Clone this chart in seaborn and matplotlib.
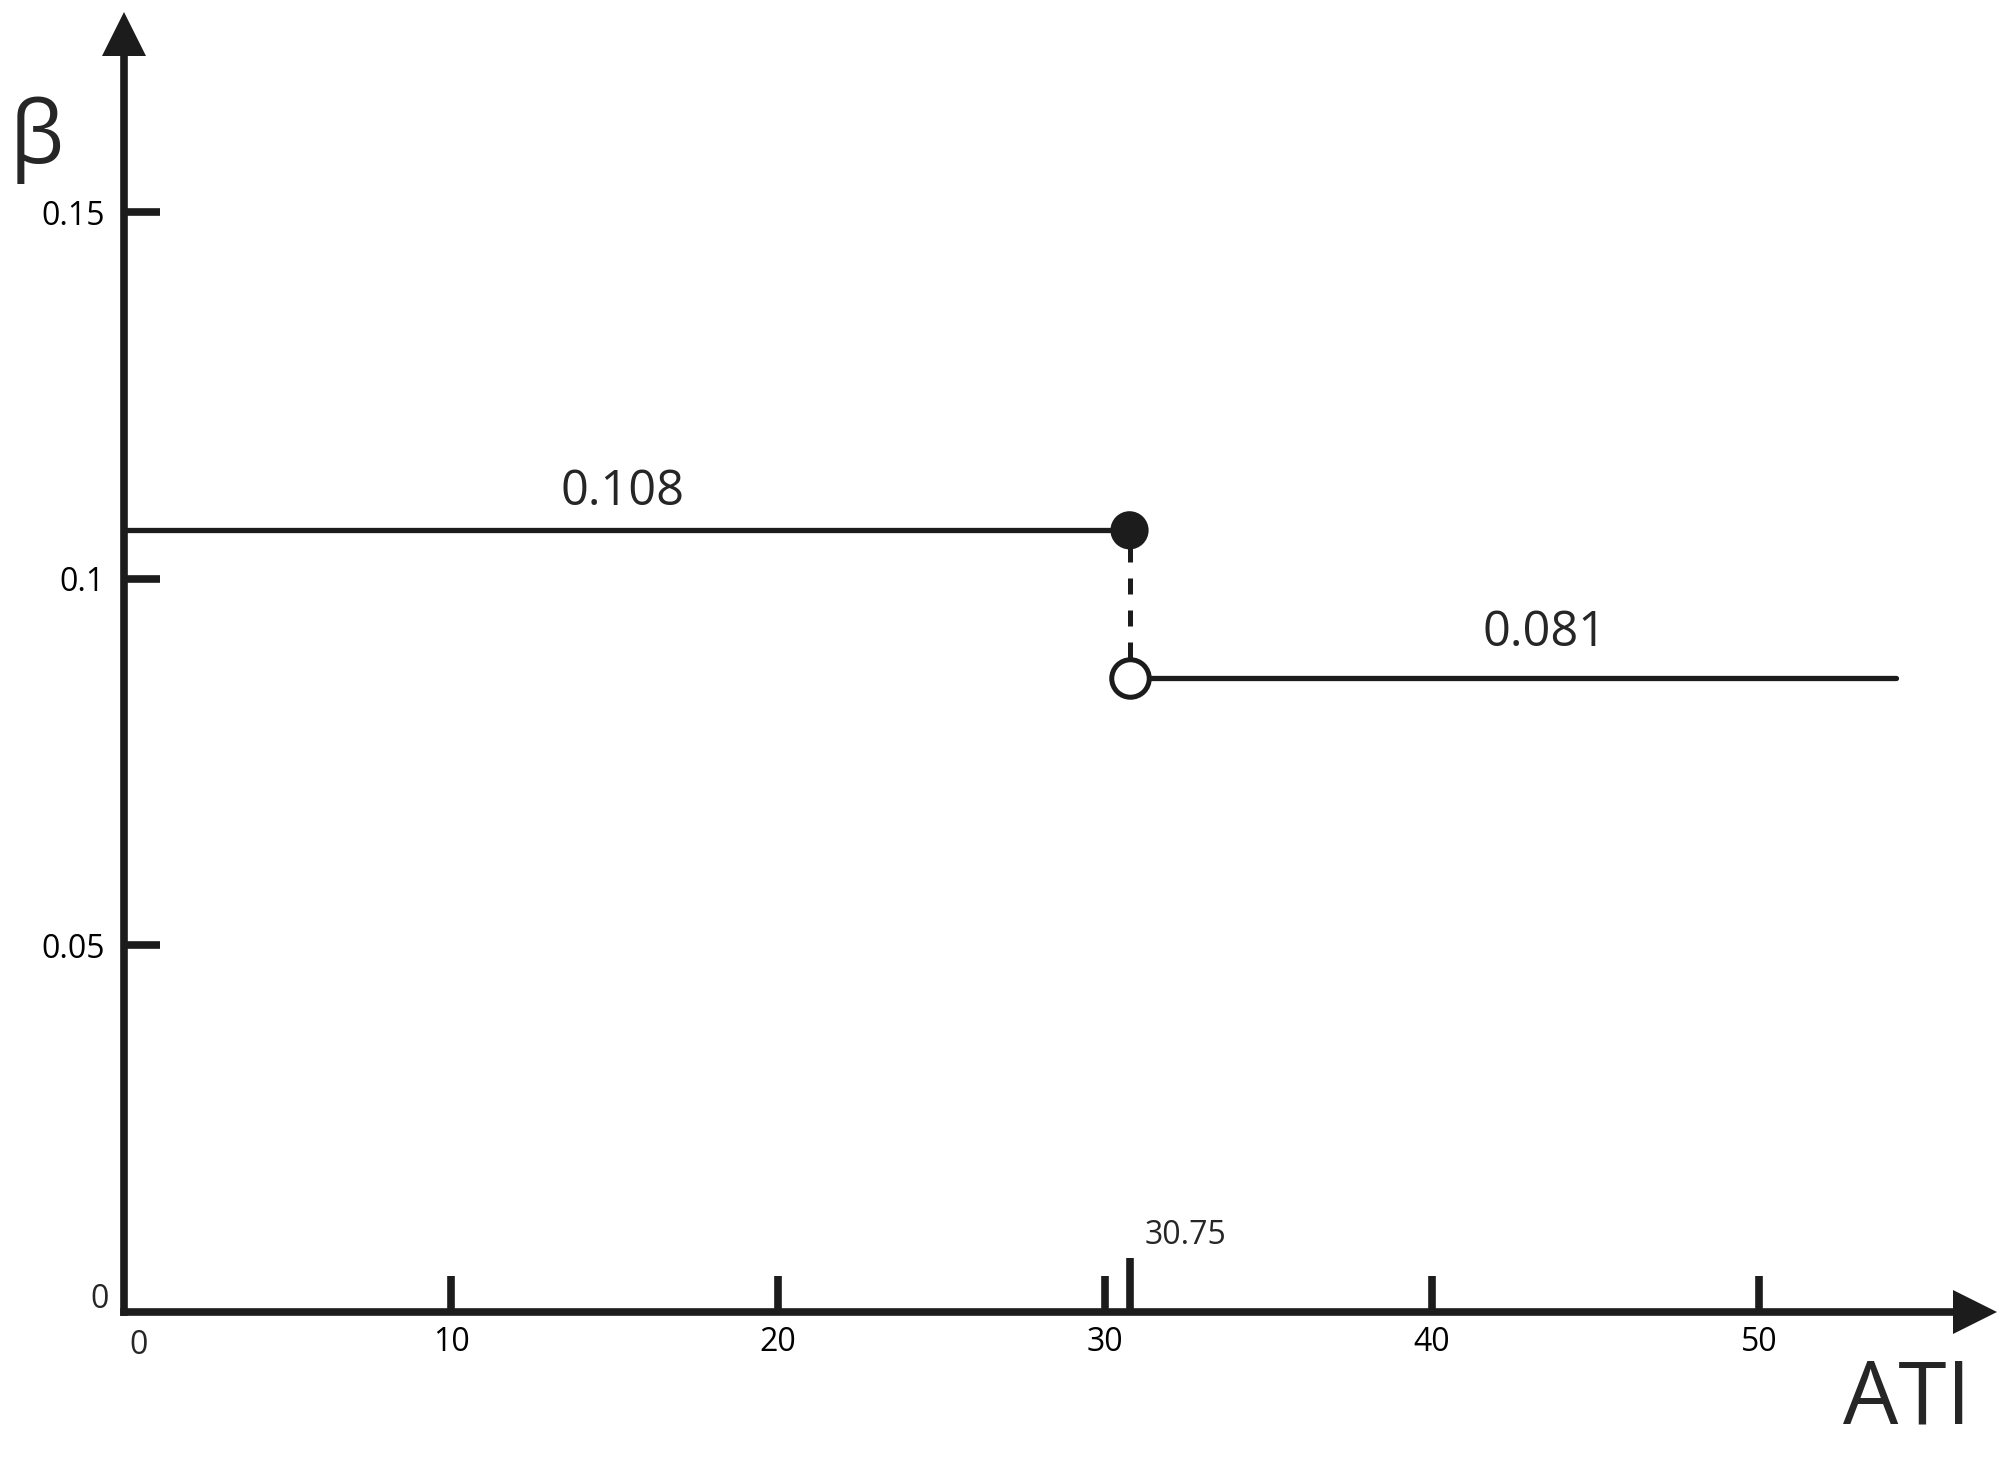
import matplotlib
matplotlib.use("Agg")
import matplotlib.pyplot as plt
import seaborn as sns
import pandas as pd

# =========================
# DATA
# =========================

seg_start = [0, 30.75]
seg_end = [30.75, 54.2]
beta_level = [0.1066, 0.0865]      # where the steps are drawn
beta_text = ["0.108", "0.081"]     # values written over the steps
break_point = 30.75

x_ticks = [10, 20, 30, 40, 50]
y_ticks = [0.05, 0.1, 0.15]
y_tick_labels = ["0.05", "0.1", "0.15"]

ink = "#1c1c1c"

# =========================
# STYLE
# =========================

sns.set_style("white")
plt.rcParams["font.family"] = ["Open Sans", "DejaVu Sans"]

fig = plt.figure(figsize=(20.12, 14.59), dpi=100)
ax = fig.add_axes([124 / 2012, (1459 - 1312) / 1459,
                   (1975 - 124) / 2012, (1312 - 34) / 1459])

# =========================
# STEP LINES
# =========================

rows = []
for i in range(len(seg_start)):
    rows.append({"ATI": seg_start[i], "beta": beta_level[i], "seg": i})
    rows.append({"ATI": seg_end[i], "beta": beta_level[i], "seg": i})
df = pd.DataFrame(rows)

sns.lineplot(data=df, x="ATI", y="beta", units="seg", estimator=None,
             color=ink, lw=3.8, ax=ax, legend=False, clip_on=False)

# dashed jump
ax.plot([break_point, break_point], [beta_level[0], beta_level[1]],
        color=ink, lw=3.6, linestyle=(3.2, (3.2, 3.2)), zorder=2)

sns.scatterplot(x=[break_point], y=[beta_level[0]], s=27.5 ** 2,
                color=ink, edgecolor="none", zorder=5, ax=ax, clip_on=False)
sns.scatterplot(x=[break_point], y=[beta_level[1]], s=27 ** 2,
                color="white", edgecolor=ink, linewidth=3.6, zorder=5,
                ax=ax, clip_on=False)

# =========================
# AXES
# =========================

ax.set_xlim(0, (1975 - 124) / 32.7)
ax.set_ylim(0, (1312 - 34) / 7333)

for s in ["top", "right"]:
    ax.spines[s].set_visible(False)
for s in ["left", "bottom"]:
    ax.spines[s].set_linewidth(5.5)
    ax.spines[s].set_color(ink)
    ax.spines[s].set_capstyle("projecting")

ax.set_xticks(x_ticks)
ax.set_xticklabels([str(t) for t in x_ticks])
ax.set_xticks([break_point], minor=True)
ax.set_yticks(y_ticks)
ax.set_yticklabels(y_tick_labels)

ax.tick_params(axis="both", which="both", bottom=True, left=True,
               top=False, right=False)
ax.tick_params(axis="both", which="major", direction="in", length=26,
               width=5.5, color=ink, labelsize=23, labelcolor="black")
ax.tick_params(axis="x", which="major", pad=10)
ax.tick_params(axis="y", which="major", pad=14)
ax.tick_params(axis="x", which="minor", direction="in", length=39,
               width=5.5, color=ink)
ax.tick_params(axis="y", which="minor", left=False)

ax.set_xlabel("")
ax.set_ylabel("")

# arrow heads
ax.plot(1, 0, ">", transform=ax.get_yaxis_transform(), clip_on=False,
        ms=31.5, color=ink, mew=0)
ax.plot(0, 1, "^", transform=ax.get_xaxis_transform(), clip_on=False,
        ms=31.5, color=ink, mew=0)

# =========================
# TEXT
# =========================

ax.text(15.23, 0.1118, beta_text[0], fontsize=35, ha="center", va="center")
ax.text(43.43, 0.0925, beta_text[1], fontsize=35, ha="center", va="center")
ax.text(32.45, 0.0104, "30.75", fontsize=23, ha="center", va="center")

fig.text(139 / 2012, 1 - 1345 / 1459, "0", fontsize=23, ha="center", va="center")
fig.text(100 / 2012, 1 - 1299 / 1459, "0", fontsize=23, ha="center", va="center")

fig.text(37 / 2012, 1 - 140 / 1459, "β", fontsize=62, ha="center", va="center")
fig.text(1907 / 2012, 1 - 1400 / 1459, "ATI", fontsize=63, ha="center", va="center")

fig.savefig("out.png", dpi=100)
